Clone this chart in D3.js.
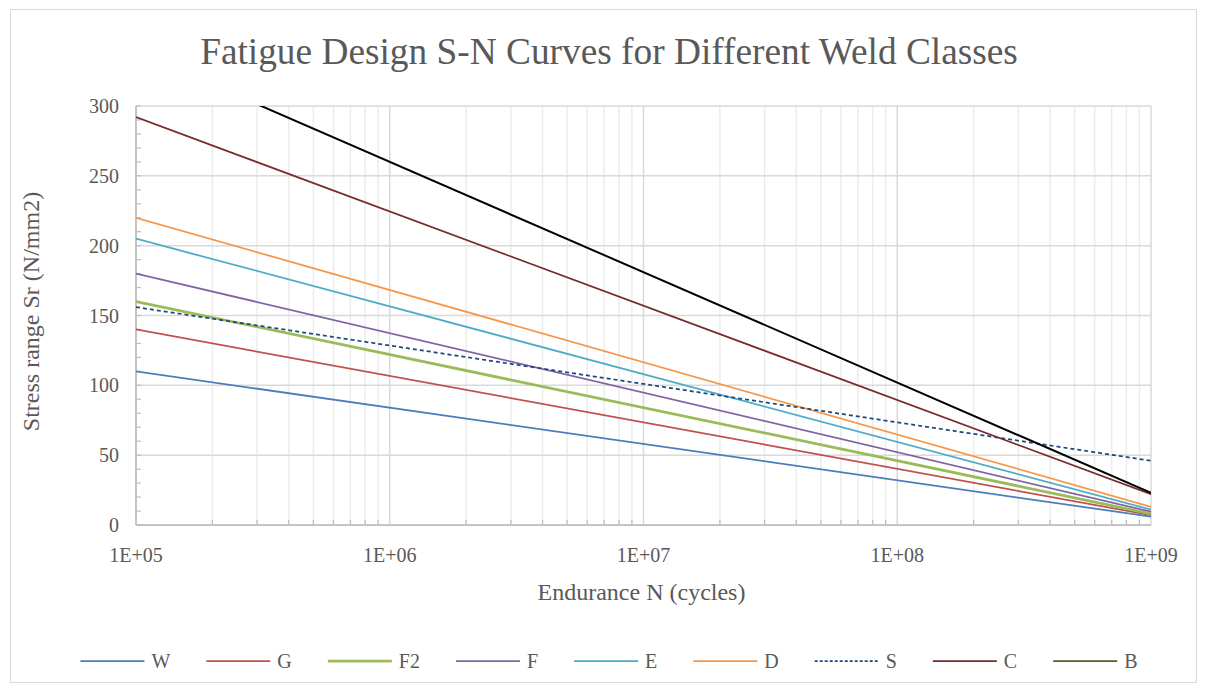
<!DOCTYPE html>
<html>
<head>
<meta charset="utf-8">
<script src="https://cdn.jsdelivr.net/npm/d3@7"></script>
<style>
  body { margin: 0; background: #fff; }
  text { font-family: "Liberation Serif", "DejaVu Serif", serif; fill: #595959; }
</style>
</head>
<body>
<div id="chart"></div>
<script>
// endurance points where each series is given
const cycles = [1e5, 1e9]
const seriesNames = ["W", "G", "F2", "F", "E", "D", "S", "C", "B"]
const wValues = [110, 6]
const gValues = [140, 7]
const f2Values = [160, 8]
const fValues = [180, 9.5]
const eValues = [205, 11]
const dValues = [220, 13]
const sValues = [156, 46]
const cValues = [292, 22]
const bValues = [339, 23]
const xTickLabels = ["1E+05", "1E+06", "1E+07", "1E+08", "1E+09"]
const yTicks = [0, 50, 100, 150, 200, 250, 300]

const seriesValues = [wValues, gValues, f2Values, fValues, eValues, dValues, sValues, cValues, bValues]

const styles = {
  W: { color: "#4A7EBB", width: 1.75 },
  G: { color: "#C0504D", width: 1.75 },
  F2: { color: "#9BBB59", width: 2.75 },
  F: { color: "#8064A2", width: 1.75 },
  E: { color: "#4BACC6", width: 1.75 },
  D: { color: "#F79646", width: 1.75 },
  S: { color: "#1F497D", width: 1.75, dash: "4,3" },
  C: { color: "#772C2A", width: 1.75 },
  B: { color: "#000000", width: 2, legend: "#4F6228" },
}

// scale a text so it spans about the width seen in the reference
function fitWidth(sel, target) {
  const size = parseFloat(sel.style("font-size"))
  const w = sel.node().getComputedTextLength()
  if (w > 0) sel.style("font-size", (size * target / w).toFixed(2) + "px")
}

function draw() {
  const dimensions = {
    width: 1205,
    height: 690,
    margin: { top: 106, left: 136, bottom: 165, right: 54 },
  }
  dimensions.ctrWidth = dimensions.width - dimensions.margin.left - dimensions.margin.right
  dimensions.ctrHeight = dimensions.height - dimensions.margin.top - dimensions.margin.bottom

  const svg = d3.select("#chart").append("svg")
    .attr("width", dimensions.width)
    .attr("height", dimensions.height)

  svg.append("rect")
    .attr("x", 10.5).attr("y", 9.5)
    .attr("width", 1186).attr("height", 673)
    .attr("fill", "#fff").attr("stroke", "#d9d9d9")

  const title = svg.append("text")
    .attr("x", 609).attr("y", 64)
    .attr("text-anchor", "middle")
    .style("font-size", "34px")
    .text("Fatigue Design S-N Curves for Different Weld Classes")
  fitWidth(title, 818)

  const xScale = d3.scaleLog().domain([1e5, 1e9]).range([0, dimensions.ctrWidth])
  const yScale = d3.scaleLinear().domain([0, 300]).range([dimensions.ctrHeight, 0])

  const ctr = svg.append("g")
    .attr("transform", `translate(${dimensions.margin.left}, ${dimensions.margin.top})`)

  // minor vertical gridlines (2..9 in each decade)
  const minor = []
  for (let e = 5; e < 9; e++) for (let k = 2; k <= 9; k++) minor.push(k * Math.pow(10, e))
  ctr.append("g").selectAll("line").data(minor).join("line")
    .attr("x1", d => xScale(d)).attr("x2", d => xScale(d))
    .attr("y1", 0).attr("y2", dimensions.ctrHeight)
    .attr("stroke", "#ececec").attr("stroke-width", 1.5)

  const majors = d3.range(5, 10).map(e => Math.pow(10, e))
  ctr.append("g").selectAll("line").data(majors).join("line")
    .attr("x1", d => xScale(d)).attr("x2", d => xScale(d))
    .attr("y1", 0).attr("y2", dimensions.ctrHeight)
    .attr("stroke", "#d9d9d9").attr("stroke-width", 1.5)

  ctr.append("g").selectAll("line").data(yTicks).join("line")
    .attr("x1", 0).attr("x2", dimensions.ctrWidth)
    .attr("y1", d => yScale(d)).attr("y2", d => yScale(d))
    .attr("stroke", "#d9d9d9").attr("stroke-width", 1.5)

  // minor ticks, inside
  ctr.append("g").selectAll("line").data(d3.range(0, 301, 10)).join("line")
    .attr("x1", 0).attr("x2", 5)
    .attr("y1", d => yScale(d)).attr("y2", d => yScale(d))
    .attr("stroke", "#bfbfbf").attr("stroke-width", 1.25)
  ctr.append("g").selectAll("line").data(minor).join("line")
    .attr("x1", d => xScale(d)).attr("x2", d => xScale(d))
    .attr("y1", dimensions.ctrHeight).attr("y2", dimensions.ctrHeight - 5)
    .attr("stroke", "#bfbfbf").attr("stroke-width", 1.25)

  // axis lines
  ctr.append("line")
    .attr("x1", 0).attr("x2", 0).attr("y1", 0).attr("y2", dimensions.ctrHeight)
    .attr("stroke", "#bfbfbf").attr("stroke-width", 1.75)
  ctr.append("line")
    .attr("x1", 0).attr("x2", dimensions.ctrWidth)
    .attr("y1", dimensions.ctrHeight).attr("y2", dimensions.ctrHeight)
    .attr("stroke", "#bfbfbf").attr("stroke-width", 1.75)

  // tick labels
  ctr.append("g").selectAll("text").data(yTicks).join("text")
    .attr("x", -17).attr("y", d => yScale(d))
    .attr("dy", "0.35em")
    .attr("text-anchor", "end")
    .style("font-size", "20px")
    .text(d => d)

  ctr.append("g").selectAll("text").data(majors).join("text")
    .attr("x", d => xScale(d)).attr("y", dimensions.ctrHeight + 37)
    .attr("text-anchor", "middle")
    .style("font-size", "20px")
    .text((d, i) => xTickLabels[i])

  ctr.append("text")
    .attr("x", dimensions.ctrWidth / 2 - 2).attr("y", dimensions.ctrHeight + 75)
    .attr("text-anchor", "middle")
    .style("font-size", "24px")
    .text("Endurance N (cycles)")
  ctr.append("text")
    .attr("transform", `translate(${-97}, ${dimensions.ctrHeight / 2 - 4}) rotate(-90)`)
    .attr("text-anchor", "middle")
    .style("font-size", "24px")
    .text("Stress range Sr (N/mm2)")

  // series
  ctr.append("clipPath").attr("id", "plot-clip")
    .append("rect").attr("width", dimensions.ctrWidth).attr("height", dimensions.ctrHeight)

  const line = d3.line()
    .x(d => xScale(d[0]))
    .y(d => yScale(d[1]))

  const series = seriesNames.map((name, i) => ({
    name,
    points: cycles.map((c, j) => [c, seriesValues[i][j]]),
  }))

  ctr.append("g").attr("clip-path", "url(#plot-clip)")
    .selectAll("path").data(series).join("path")
    .attr("d", d => line(d.points))
    .attr("fill", "none")
    .attr("stroke", d => styles[d.name].color)
    .attr("stroke-width", d => styles[d.name].width)
    .attr("stroke-dasharray", d => styles[d.name].dash || null)

  // legend
  const legend = svg.append("g").attr("transform", "translate(0, 661)")
  const items = legend.selectAll("g").data(seriesNames).join("g")
  items.append("line")
    .attr("x1", 0).attr("x2", 64)
    .attr("stroke", d => styles[d].legend || styles[d].color)
    .attr("stroke-width", d => d === "F2" ? 2.75 : 1.75)
    .attr("stroke-dasharray", d => styles[d].dash ? "3,2" : null)
  items.append("text")
    .attr("x", 71).attr("dy", "0.35em")
    .style("font-size", "20px")
    .text(d => d)

  let x = 0
  const pos = []
  items.each(function () {
    pos.push(x)
    x += 71 + this.querySelector("text").getComputedTextLength() + 36
  })
  const total = x - 36
  const start = 609 - total / 2
  items.attr("transform", (d, i) => `translate(${start + pos[i]}, 0)`)
}

draw()
</script>
</body>
</html>
